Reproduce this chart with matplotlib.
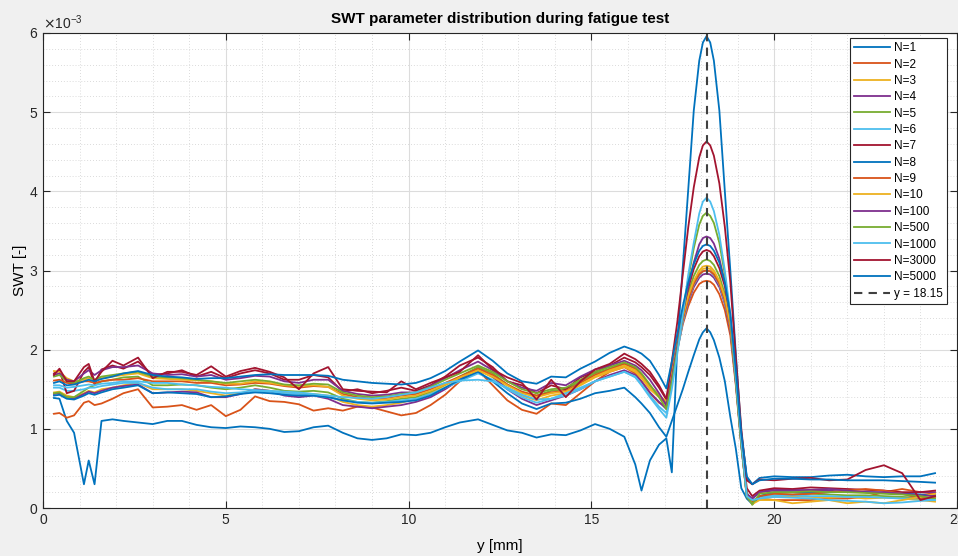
import numpy as np
import matplotlib
matplotlib.use("Agg")
import matplotlib.pyplot as plt
from matplotlib.ticker import MultipleLocator, ScalarFormatter

plt.rcParams['font.family'] = ['Liberation Sans', 'DejaVu Sans']

# position along the specimen [mm]
x_mm = [0.3, 0.45, 0.65, 0.85, 1.12, 1.25, 1.41, 1.6, 1.9,
        2.2, 2.6, 3.0, 3.4, 3.8, 4.2, 4.6, 5.0, 5.4, 5.8, 6.2, 6.6, 7.0, 7.4, 7.8, 8.2, 8.6, 9.0, 9.4, 9.8,
        10.2, 10.6, 11.0, 11.4, 11.9, 12.3, 12.7, 13.1, 13.5, 13.9, 14.3, 14.7, 15.1, 15.5, 15.9, 16.2, 16.37, 16.6, 16.85,
        17.05, 17.2, 17.35, 17.5, 17.65, 17.8, 17.95, 18.05, 18.15, 18.25, 18.35, 18.5, 18.65, 18.8, 18.95, 19.1, 19.25,
        19.4, 19.6, 20.0, 20.5, 21.0, 21.5, 22.0, 22.5, 23.0, 23.5, 24.0, 24.4]

# SWT values, in units of 1e-3
swt_n1 = [1.39, 1.38, 1.10, 0.95, 0.30, 0.60, 0.30, 1.10, 1.12,
          1.10, 1.08, 1.06, 1.10, 1.10, 1.05, 1.02, 1.01, 1.03, 1.02, 1.00, 0.96, 0.97, 1.02, 1.04, 0.95, 0.88, 0.86, 0.88, 0.93,
          0.92, 0.95, 1.02, 1.08, 1.12, 1.05, 0.98, 0.95, 0.89, 0.93, 0.92, 0.98, 1.06, 1.00, 0.90, 0.55, 0.22, 0.60, 0.80,
          0.88, 0.45, 2.05, 3.05, 4.03, 5.02, 5.65, 5.88, 5.96, 5.88, 5.65, 5.02, 4.00, 3.00, 1.95, 0.95, 0.38,
          0.30, 0.38, 0.40, 0.39, 0.39, 0.41, 0.42, 0.40, 0.39, 0.40, 0.40, 0.44]
swt_n2 = [1.19, 1.20, 1.14, 1.17, 1.33, 1.35, 1.30, 1.32, 1.38,
          1.45, 1.50, 1.27, 1.28, 1.30, 1.24, 1.30, 1.16, 1.24, 1.41, 1.35, 1.34, 1.31, 1.23, 1.26, 1.23, 1.28, 1.27, 1.22, 1.17,
          1.20, 1.30, 1.43, 1.60, 1.74, 1.55, 1.36, 1.24, 1.19, 1.32, 1.30, 1.45, 1.60, 1.72, 1.78, 1.70, 1.60, 1.45, 1.33,
          1.28, 1.64, 2.00, 2.32, 2.55, 2.72, 2.83, 2.86, 2.87, 2.86, 2.82, 2.70, 2.50, 2.18, 1.55, 0.78, 0.15,
          0.10, 0.12, 0.10, 0.10, 0.10, 0.12, 0.12, 0.14, 0.20, 0.24, 0.20, 0.18]
swt_n3 = [1.46, 1.47, 1.42, 1.40, 1.45, 1.48, 1.46, 1.50, 1.52,
          1.55, 1.58, 1.50, 1.50, 1.50, 1.48, 1.45, 1.42, 1.45, 1.50, 1.48, 1.46, 1.45, 1.44, 1.42, 1.34, 1.30, 1.28, 1.30, 1.33,
          1.38, 1.45, 1.55, 1.64, 1.74, 1.65, 1.52, 1.42, 1.36, 1.42, 1.45, 1.55, 1.65, 1.72, 1.78, 1.72, 1.64, 1.50, 1.40,
          1.33, 1.68, 2.05, 2.40, 2.66, 2.85, 2.97, 3.02, 3.03, 3.02, 2.97, 2.85, 2.63, 2.30, 1.62, 0.82, 0.12,
          0.06, 0.12, 0.14, 0.15, 0.14, 0.13, 0.14, 0.12, 0.13, 0.12, 0.10, 0.08]
swt_n4 = [1.44, 1.45, 1.40, 1.38, 1.44, 1.47, 1.45, 1.48, 1.52,
          1.54, 1.56, 1.45, 1.46, 1.47, 1.46, 1.40, 1.40, 1.44, 1.50, 1.48, 1.42, 1.40, 1.42, 1.38, 1.30, 1.28, 1.26, 1.28, 1.30,
          1.34, 1.40, 1.50, 1.62, 1.78, 1.66, 1.50, 1.38, 1.30, 1.36, 1.42, 1.50, 1.60, 1.68, 1.74, 1.68, 1.60, 1.46, 1.34,
          1.25, 1.62, 2.00, 2.35, 2.60, 2.79, 2.91, 2.95, 2.96, 2.95, 2.91, 2.79, 2.58, 2.25, 1.58, 0.80, 0.15,
          0.12, 0.20, 0.24, 0.23, 0.22, 0.22, 0.20, 0.20, 0.19, 0.18, 0.20, 0.20]
swt_n5 = [1.45, 1.46, 1.40, 1.40, 1.48, 1.52, 1.55, 1.60, 1.62,
          1.65, 1.66, 1.55, 1.55, 1.56, 1.55, 1.52, 1.50, 1.52, 1.55, 1.52, 1.48, 1.47, 1.48, 1.46, 1.38, 1.34, 1.33, 1.35, 1.38,
          1.40, 1.47, 1.56, 1.66, 1.78, 1.70, 1.56, 1.46, 1.42, 1.48, 1.50, 1.60, 1.70, 1.76, 1.83, 1.76, 1.68, 1.54, 1.42,
          1.33, 1.70, 2.07, 2.43, 2.72, 2.93, 3.07, 3.12, 3.14, 3.12, 3.07, 2.93, 2.70, 2.35, 1.65, 0.85, 0.20,
          0.04, 0.15, 0.18, 0.17, 0.18, 0.17, 0.16, 0.16, 0.15, 0.14, 0.13, 0.12]
swt_n6 = [1.52, 1.52, 1.48, 1.48, 1.50, 1.52, 1.52, 1.54, 1.56,
          1.58, 1.58, 1.52, 1.50, 1.50, 1.50, 1.47, 1.45, 1.46, 1.48, 1.47, 1.45, 1.44, 1.42, 1.40, 1.36, 1.34, 1.33, 1.34, 1.36,
          1.38, 1.44, 1.52, 1.60, 1.70, 1.62, 1.50, 1.40, 1.33, 1.38, 1.42, 1.50, 1.60, 1.66, 1.72, 1.66, 1.56, 1.42, 1.28,
          1.20, 1.58, 1.98, 2.35, 2.62, 2.82, 2.94, 2.99, 3.00, 2.99, 2.94, 2.82, 2.60, 2.28, 1.60, 0.80, 0.15,
          0.08, 0.14, 0.16, 0.16, 0.15, 0.15, 0.14, 0.14, 0.13, 0.12, 0.12, 0.10]
swt_n7 = [1.70, 1.74, 1.45, 1.48, 1.72, 1.78, 1.56, 1.75, 1.80,
          1.76, 1.85, 1.68, 1.70, 1.74, 1.66, 1.72, 1.64, 1.70, 1.74, 1.70, 1.62, 1.62, 1.68, 1.65, 1.47, 1.50, 1.45, 1.48, 1.52,
          1.48, 1.55, 1.66, 1.80, 1.90, 1.78, 1.60, 1.55, 1.45, 1.55, 1.50, 1.65, 1.72, 1.80, 1.90, 1.84, 1.78, 1.68, 1.52,
          1.37, 1.72, 2.10, 2.47, 2.78, 3.02, 3.18, 3.24, 3.26, 3.24, 3.18, 3.03, 2.80, 2.40, 1.70, 0.90, 0.25,
          0.15, 0.22, 0.25, 0.24, 0.26, 0.25, 0.24, 0.23, 0.22, 0.20, 0.20, 0.22]
swt_n8 = [1.42, 1.43, 1.38, 1.37, 1.42, 1.45, 1.43, 1.46, 1.50,
          1.52, 1.55, 1.45, 1.46, 1.45, 1.44, 1.40, 1.41, 1.44, 1.46, 1.45, 1.43, 1.42, 1.42, 1.40, 1.36, 1.33, 1.32, 1.33, 1.34,
          1.36, 1.42, 1.52, 1.62, 1.72, 1.60, 1.45, 1.32, 1.25, 1.32, 1.33, 1.38, 1.45, 1.48, 1.52, 1.40, 1.32, 1.20, 1.02,
          0.90, 1.10, 1.30, 1.50, 1.72, 1.93, 2.13, 2.22, 2.27, 2.22, 2.12, 1.90, 1.60, 1.15, 0.75, 0.25, 0.12,
          0.05, 0.15, 0.20, 0.20, 0.19, 0.20, 0.21, 0.20, 0.19, 0.18, 0.17, 0.16]
swt_n9 = [1.61, 1.62, 1.58, 1.57, 1.60, 1.60, 1.58, 1.60, 1.62,
          1.62, 1.64, 1.60, 1.60, 1.60, 1.58, 1.58, 1.55, 1.56, 1.58, 1.57, 1.54, 1.52, 1.54, 1.53, 1.44, 1.40, 1.38, 1.39, 1.42,
          1.44, 1.50, 1.58, 1.66, 1.76, 1.68, 1.56, 1.47, 1.42, 1.46, 1.48, 1.58, 1.68, 1.75, 1.82, 1.76, 1.68, 1.54, 1.42,
          1.30, 1.66, 2.03, 2.38, 2.63, 2.83, 2.95, 2.99, 3.00, 2.99, 2.95, 2.83, 2.62, 2.28, 1.60, 0.82, 0.18,
          0.08, 0.15, 0.18, 0.17, 0.18, 0.20, 0.22, 0.24, 0.22, 0.18, 0.12, 0.14]
swt_n10 = [1.73, 1.72, 1.64, 1.60, 1.62, 1.64, 1.62, 1.64, 1.66,
           1.68, 1.70, 1.64, 1.63, 1.62, 1.61, 1.60, 1.57, 1.57, 1.60, 1.58, 1.55, 1.54, 1.55, 1.53, 1.42, 1.38, 1.36, 1.37, 1.40,
           1.42, 1.48, 1.56, 1.65, 1.74, 1.66, 1.55, 1.45, 1.40, 1.45, 1.47, 1.56, 1.66, 1.74, 1.80, 1.74, 1.66, 1.52, 1.42,
           1.35, 1.70, 2.07, 2.42, 2.68, 2.87, 3.00, 3.05, 3.06, 3.05, 3.00, 2.87, 2.66, 2.32, 1.65, 0.85, 0.15,
           0.05, 0.10, 0.10, 0.06, 0.08, 0.10, 0.06, 0.08, 0.06, 0.10, 0.14, 0.18]
swt_n100 = [1.68, 1.70, 1.62, 1.60, 1.70, 1.74, 1.68, 1.74, 1.78,
            1.78, 1.80, 1.70, 1.68, 1.69, 1.66, 1.68, 1.62, 1.64, 1.67, 1.66, 1.60, 1.58, 1.62, 1.62, 1.48, 1.44, 1.42, 1.43, 1.46,
            1.46, 1.54, 1.64, 1.74, 1.85, 1.74, 1.60, 1.52, 1.48, 1.58, 1.55, 1.66, 1.75, 1.80, 1.86, 1.80, 1.74, 1.62, 1.45,
            1.30, 1.65, 2.05, 2.45, 2.80, 3.10, 3.33, 3.41, 3.43, 3.41, 3.34, 3.15, 2.85, 2.40, 1.65, 0.85, 0.18,
            0.12, 0.20, 0.22, 0.22, 0.23, 0.24, 0.22, 0.20, 0.20, 0.18, 0.16, 0.15]
swt_n500 = [1.66, 1.68, 1.60, 1.58, 1.64, 1.66, 1.62, 1.66, 1.68,
            1.70, 1.72, 1.66, 1.65, 1.64, 1.62, 1.60, 1.58, 1.60, 1.62, 1.60, 1.56, 1.55, 1.57, 1.56, 1.46, 1.42, 1.40, 1.41, 1.44,
            1.46, 1.53, 1.62, 1.70, 1.80, 1.72, 1.60, 1.50, 1.45, 1.50, 1.52, 1.62, 1.72, 1.78, 1.84, 1.78, 1.70, 1.56, 1.40,
            1.25, 1.60, 2.00, 2.45, 2.90, 3.28, 3.58, 3.69, 3.73, 3.69, 3.60, 3.35, 2.95, 2.40, 1.60, 0.80, 0.15,
            0.05, 0.18, 0.20, 0.20, 0.21, 0.20, 0.20, 0.19, 0.18, 0.17, 0.15, 0.12]
swt_n1000 = [1.55, 1.55, 1.52, 1.53, 1.55, 1.56, 1.55, 1.57, 1.58,
             1.60, 1.60, 1.58, 1.58, 1.56, 1.55, 1.53, 1.52, 1.50, 1.49, 1.48, 1.47, 1.46, 1.44, 1.42, 1.40, 1.39, 1.38, 1.40, 1.43,
             1.46, 1.52, 1.58, 1.61, 1.62, 1.60, 1.52, 1.43, 1.37, 1.38, 1.45, 1.52, 1.60, 1.66, 1.72, 1.65, 1.55, 1.40, 1.25,
             1.14, 1.50, 1.95, 2.45, 2.95, 3.35, 3.72, 3.87, 3.92, 3.87, 3.75, 3.45, 3.00, 2.45, 1.65, 0.85, 0.15,
             0.10, 0.12, 0.14, 0.13, 0.12, 0.10, 0.09, 0.08, 0.06, 0.07, 0.09, 0.10]
swt_n3000 = [1.68, 1.76, 1.60, 1.60, 1.78, 1.82, 1.60, 1.72, 1.86,
             1.80, 1.90, 1.64, 1.72, 1.72, 1.68, 1.79, 1.66, 1.73, 1.77, 1.72, 1.65, 1.50, 1.70, 1.78, 1.50, 1.48, 1.47, 1.46, 1.60,
             1.50, 1.58, 1.65, 1.72, 1.93, 1.75, 1.65, 1.58, 1.37, 1.62, 1.40, 1.60, 1.75, 1.82, 1.95, 1.88, 1.82, 1.72, 1.55,
             1.38, 1.85, 2.35, 2.95, 3.55, 4.05, 4.43, 4.58, 4.63, 4.58, 4.45, 4.10, 3.55, 2.85, 1.90, 1.00, 0.35,
             0.30, 0.36, 0.35, 0.37, 0.38, 0.35, 0.36, 0.48, 0.54, 0.44, 0.10, 0.15]
swt_n5000 = [1.58, 1.60, 1.55, 1.56, 1.60, 1.62, 1.60, 1.63, 1.66,
             1.70, 1.73, 1.68, 1.66, 1.65, 1.63, 1.64, 1.64, 1.66, 1.68, 1.69, 1.68, 1.68, 1.68, 1.67, 1.62, 1.60, 1.58, 1.57, 1.56,
             1.58, 1.64, 1.73, 1.85, 1.99, 1.86, 1.70, 1.60, 1.57, 1.66, 1.65, 1.76, 1.85, 1.96, 2.04, 1.99, 1.95, 1.86, 1.68,
             1.51, 1.85, 2.20, 2.55, 2.85, 3.08, 3.25, 3.31, 3.33, 3.31, 3.25, 3.10, 2.85, 2.45, 1.75, 0.95, 0.40,
             0.30, 0.35, 0.37, 0.37, 0.36, 0.36, 0.35, 0.35, 0.35, 0.34, 0.33, 0.32]

cycles = ['N=1', 'N=2', 'N=3', 'N=4', 'N=5', 'N=6', 'N=7', 'N=8', 'N=9', 'N=10',
          'N=100', 'N=500', 'N=1000', 'N=3000', 'N=5000']
series = [swt_n1, swt_n2, swt_n3, swt_n4, swt_n5, swt_n6, swt_n7, swt_n8, swt_n9, swt_n10,
          swt_n100, swt_n500, swt_n1000, swt_n3000, swt_n5000]
y_mark = 18.15

# matlab default colour order
matlab_colors = ['#0072BD', '#D95319', '#EDB120', '#7E2F8E', '#77AC30', '#4DBEEE', '#A2142F']

fig = plt.figure(figsize=(9.58, 5.56), dpi=100, facecolor='#f0f0f0')
ax = fig.add_axes([43/958, 48/556, 914/958, 475/556])

for i, (vals, lab) in enumerate(zip(series, cycles)):
    ax.plot(x_mm, np.array(vals) * 1e-3, color=matlab_colors[i % 7], lw=1.3, label=lab)
ax.axvline(y_mark, color='#404040', ls=(0, (4, 3)), lw=1.5, label='y = %.2f' % y_mark)

ax.set_xlim(0, 25)
ax.set_ylim(0, 6e-3)
ax.xaxis.set_major_locator(MultipleLocator(5))
ax.xaxis.set_minor_locator(MultipleLocator(1))
ax.yaxis.set_major_locator(MultipleLocator(1e-3))
ax.yaxis.set_minor_locator(MultipleLocator(0.2e-3))
fmt = ScalarFormatter(useMathText=True)
fmt.set_powerlimits((-3, -3))
ax.yaxis.set_major_formatter(fmt)
ax.yaxis.get_offset_text().set_fontsize(10)

ax.grid(which='major', color='#dcdcdc', lw=0.8)
ax.grid(which='minor', color='#cfcfcf', lw=0.6, ls=(0, (1, 2.5)))
ax.set_axisbelow(True)
ax.tick_params(which='major', direction='in', top=True, right=True, length=5, width=0.8,
               labelsize=10, colors='#262626')
ax.tick_params(which='minor', length=0)
for s in ax.spines.values():
    s.set_color('#262626')
    s.set_linewidth(0.8)

ax.set_title('SWT parameter distribution during fatigue test', fontsize=11, fontweight='bold', pad=7)
ax.set_xlabel('y [mm]', fontsize=11, labelpad=9)
ax.set_ylabel('SWT [-]', fontsize=11, labelpad=1)

leg = ax.legend(loc='upper right', bbox_to_anchor=(1 - 10/914, 1 - 5/475), borderaxespad=0,
                fontsize=8.5, handlelength=3.1, labelspacing=0.37, borderpad=0.35, handletextpad=0.3,
                fancybox=False, framealpha=1, edgecolor='#262626')
leg.get_frame().set_linewidth(0.8)

fig.savefig('out.png', dpi=100, facecolor=fig.get_facecolor())
